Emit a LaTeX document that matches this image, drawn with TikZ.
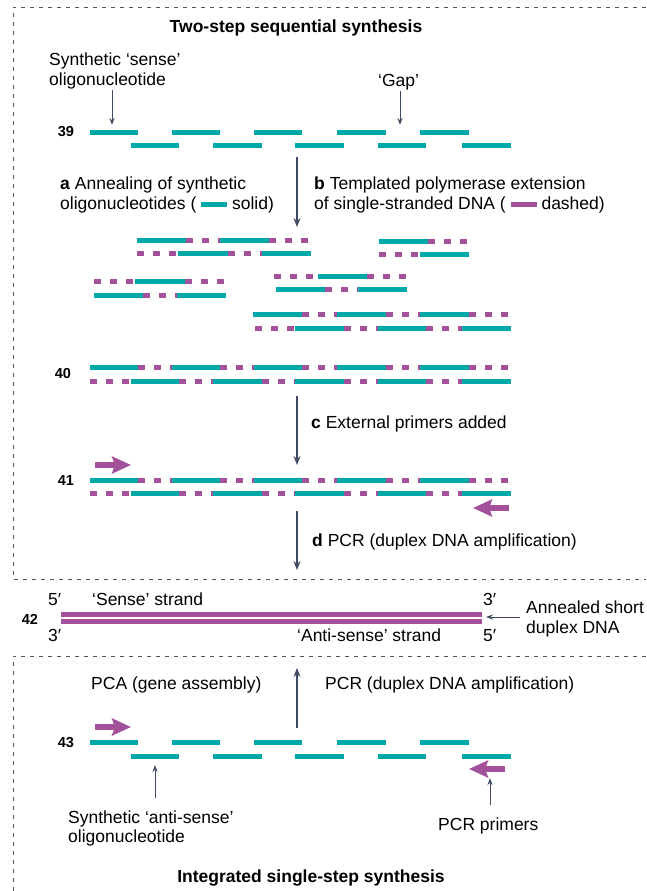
\documentclass[tikz,border=0pt]{standalone}
\usepackage{fontspec}
\setmainfont{Liberation Sans}
\usetikzlibrary{arrows.meta}
\definecolor{oligoteal}{HTML}{00A9A9}
\definecolor{extpurple}{HTML}{A3519B}
\definecolor{arrowgray}{HTML}{3F4B63}
\definecolor{framegray}{HTML}{555555}
\newcommand{\txtsize}{\fontsize{17.5}{19.5}\selectfont}
% one strand of a duplex: y, then x1/x2/style pieces
\newcommand{\strand}[2]{\foreach \a/\b/\t in {#2}{\draw[\t] (\a,#1) -- (\b,#1);}}
\tikzset{
  oligo/.style={line width=5pt, draw=oligoteal},
  ext/.style={line width=5pt, draw=extpurple, dash pattern=on 7pt off 9pt},
  lbl/.style={font=\txtsize, inner sep=0pt, anchor=base west, align=left},
  head/.style={font=\bfseries\txtsize, inner sep=0pt, anchor=base},
  num/.style={font=\bfseries\fontsize{14.5}{16}\selectfont, inner sep=0pt},
  stage arrow/.style={draw=arrowgray, line width=1.6pt, -{Stealth[length=9pt,width=7pt]}},
  pointer/.style={draw=arrowgray, line width=0.9pt, -{Stealth[length=7pt,width=5pt]}},
  primer/.style={draw=extpurple, line width=5.5pt, -{Stealth[length=19pt,width=17pt,inset=3pt]}},
  frame/.style={draw=framegray, line width=0.8pt, dash pattern=on 4pt off 5pt}
}

\begin{document}
\begin{tikzpicture}[x=1pt,y=-1pt]
  \useasboundingbox (0,0) rectangle (646,891);
  % dashed frames
  \draw[frame] (646,7) -- (13,7) -- (13,579) -- (646,579);
  \draw[frame] (646,656) -- (13,656) -- (13,891);

  % two-step part
  \node[head] (title) at (296,32.5) {Two-step sequential synthesis};
  \node[lbl] (senselbl) at (49,85) {Synthetic ‘sense’\\oligonucleotide};
  \node[lbl] (gaplbl) at (378,86) {‘Gap’};
  \coordinate (sensetip) at (112,125);
  \coordinate (gaptip) at (400,125);
  \draw[pointer,shorten <=1.5pt] (senselbl.south -| sensetip) -- (sensetip);
  \draw[pointer,shorten <=1.5pt] (gaplbl.south -| gaptip) -- (gaptip);

  \node[num] (n39) at (66,132) {39};
  \strand{132}{90/138/oligo, 172/220/oligo, 254/302/oligo, 337/386/oligo, 420/469/oligo}
  \strand{145}{131/179/oligo, 213/262/oligo, 295/344/oligo, 378/426/oligo, 462/511/oligo}

  \coordinate (atop) at (297,157);
  \coordinate (abot) at (297,227);
  \draw[stage arrow] (atop) -- (abot);
  \node[lbl] (albl) at (60,209) {\textbf{a} Annealing of synthetic\\oligonucleotides ( {\color{oligoteal}\rule[2pt]{26pt}{5pt}} solid)};
  \node[lbl] (blbl) at (314,209) {\textbf{b} Templated polymerase extension\\of single-stranded DNA ( {\color{extpurple}\rule[2pt]{26pt}{5pt}} dashed)};

  % partial duplexes
  \strand{240}{137/186/oligo, 186/220/ext, 220/269/oligo, 269/310/ext}
  \strand{253}{137/178/ext, 178/228/oligo, 228/262/ext, 262/311/oligo}
  \strand{241}{379/428/oligo, 428/469/ext}
  \strand{254}{379/420/ext, 420/469/oligo}
  \strand{281}{94/135/ext, 135/185/oligo, 185/227/ext}
  \strand{295}{94/143/oligo, 143/177/ext, 177/226/oligo}
  \strand{276}{274/318/ext, 318/367/oligo, 367/408/ext}
  \strand{289}{276/325/oligo, 325/358/ext, 358/407/oligo}
  \strand{314}{253/302/oligo, 302/337/ext, 337/386/oligo, 386/420/ext, 420/469/oligo, 469/511/ext}
  \strand{328}{255/295/ext, 295/344/oligo, 344/378/ext, 378/426/oligo, 426/462/ext, 462/511/oligo}

  \node[num] (n40) at (63,374) {40};
  \strand{367}{90/138/oligo, 138/172/ext, 172/220/oligo, 220/254/ext, 254/302/oligo, 302/337/ext, 337/386/oligo, 386/420/ext, 420/469/oligo, 469/511/ext}
  \strand{381}{90/131/ext, 131/179/oligo, 179/213/ext, 213/262/oligo, 262/295/ext, 295/344/oligo, 344/378/ext, 378/426/oligo, 426/462/ext, 462/511/oligo}

  \coordinate (ctop) at (297,396);
  \coordinate (cbot) at (297,465);
  \draw[stage arrow] (ctop) -- (cbot);
  \node[lbl] (clbl) at (311,428) {\textbf{c} External primers added};

  \node[num] (n41) at (66,481) {41};
  \coordinate (fwd1) at (95,465);
  \coordinate (fwd1tip) at (131,465);
  \draw[primer] (fwd1) -- (fwd1tip);
  \strand{480}{90/138/oligo, 138/172/ext, 172/220/oligo, 220/254/ext, 254/302/oligo, 302/337/ext, 337/386/oligo, 386/420/ext, 420/469/oligo, 469/511/ext}
  \strand{493}{90/131/ext, 131/179/oligo, 179/213/ext, 213/262/oligo, 262/295/ext, 295/344/oligo, 344/378/ext, 378/426/oligo, 426/462/ext, 462/511/oligo}
  \coordinate (rev1) at (509,508);
  \coordinate (rev1tip) at (473,508);
  \draw[primer] (rev1) -- (rev1tip);

  \coordinate (dtop) at (297,511);
  \coordinate (dbot) at (297,570);
  \draw[stage arrow] (dtop) -- (dbot);
  \node[lbl] (dlbl) at (312,546.5) {\textbf{d} PCR (duplex DNA amplification)};

  % annealed duplex
  \node[num] (n42) at (30,619) {42};
  \draw[ext,dash pattern=] (61,614) -- (482,614);
  \draw[ext,dash pattern=] (61,621.5) -- (482,621.5);
  \node[lbl] (s5) at (48,605) {5′};
  \node[lbl] (s3) at (48,641) {3′};
  \node[lbl] (e3) at (483,605) {3′};
  \node[lbl] (e5) at (483,641) {5′};
  \node[lbl] (senselbl2) at (92,605) {‘Sense’ strand};
  \node[lbl] (antisenselbl) at (297,641) {‘Anti-sense’ strand};
  \node[lbl] (anneallbl) at (526,633) {Annealed short\\duplex DNA};
  \coordinate (duplexend) at (486,617);
  \draw[pointer,shorten <=6pt] (anneallbl.west |- duplexend) -- (duplexend);

  % single-step part
  \node[lbl] (pcalbl) at (91,689) {PCA (gene assembly)};
  \node[lbl] (pcrlbl) at (325,689) {PCR (duplex DNA amplification)};
  \coordinate (upbot) at (297,728);
  \coordinate (uptop) at (297,668);
  \draw[stage arrow] (upbot) -- (uptop);

  \node[num] (n43) at (66,743) {43};
  \coordinate (fwd2) at (95,727);
  \coordinate (fwd2tip) at (131,727);
  \draw[primer] (fwd2) -- (fwd2tip);
  \strand{742}{90/138/oligo, 172/220/oligo, 254/302/oligo, 337/386/oligo, 420/469/oligo}
  \strand{756}{131/179/oligo, 213/262/oligo, 295/344/oligo, 378/426/oligo, 462/511/oligo}
  \coordinate (rev2) at (505,769);
  \coordinate (rev2tip) at (469,769);
  \draw[primer] (rev2) -- (rev2tip);

  \node[lbl] (antilbl) at (68,842.7) {Synthetic ‘anti-sense’\\oligonucleotide};
  \coordinate (antifoot) at (155,798);
  \coordinate (antitip) at (155,765);
  \draw[pointer] (antifoot) -- (antitip);
  \node[lbl] (primerlbl) at (438,830) {PCR primers};
  \coordinate (primerfoot) at (490,805);
  \coordinate (primertip) at (490,778);
  \draw[pointer] (primerfoot) -- (primertip);

  \node[head] (title2) at (311,882) {Integrated single-step synthesis};
\end{tikzpicture}
\end{document}
